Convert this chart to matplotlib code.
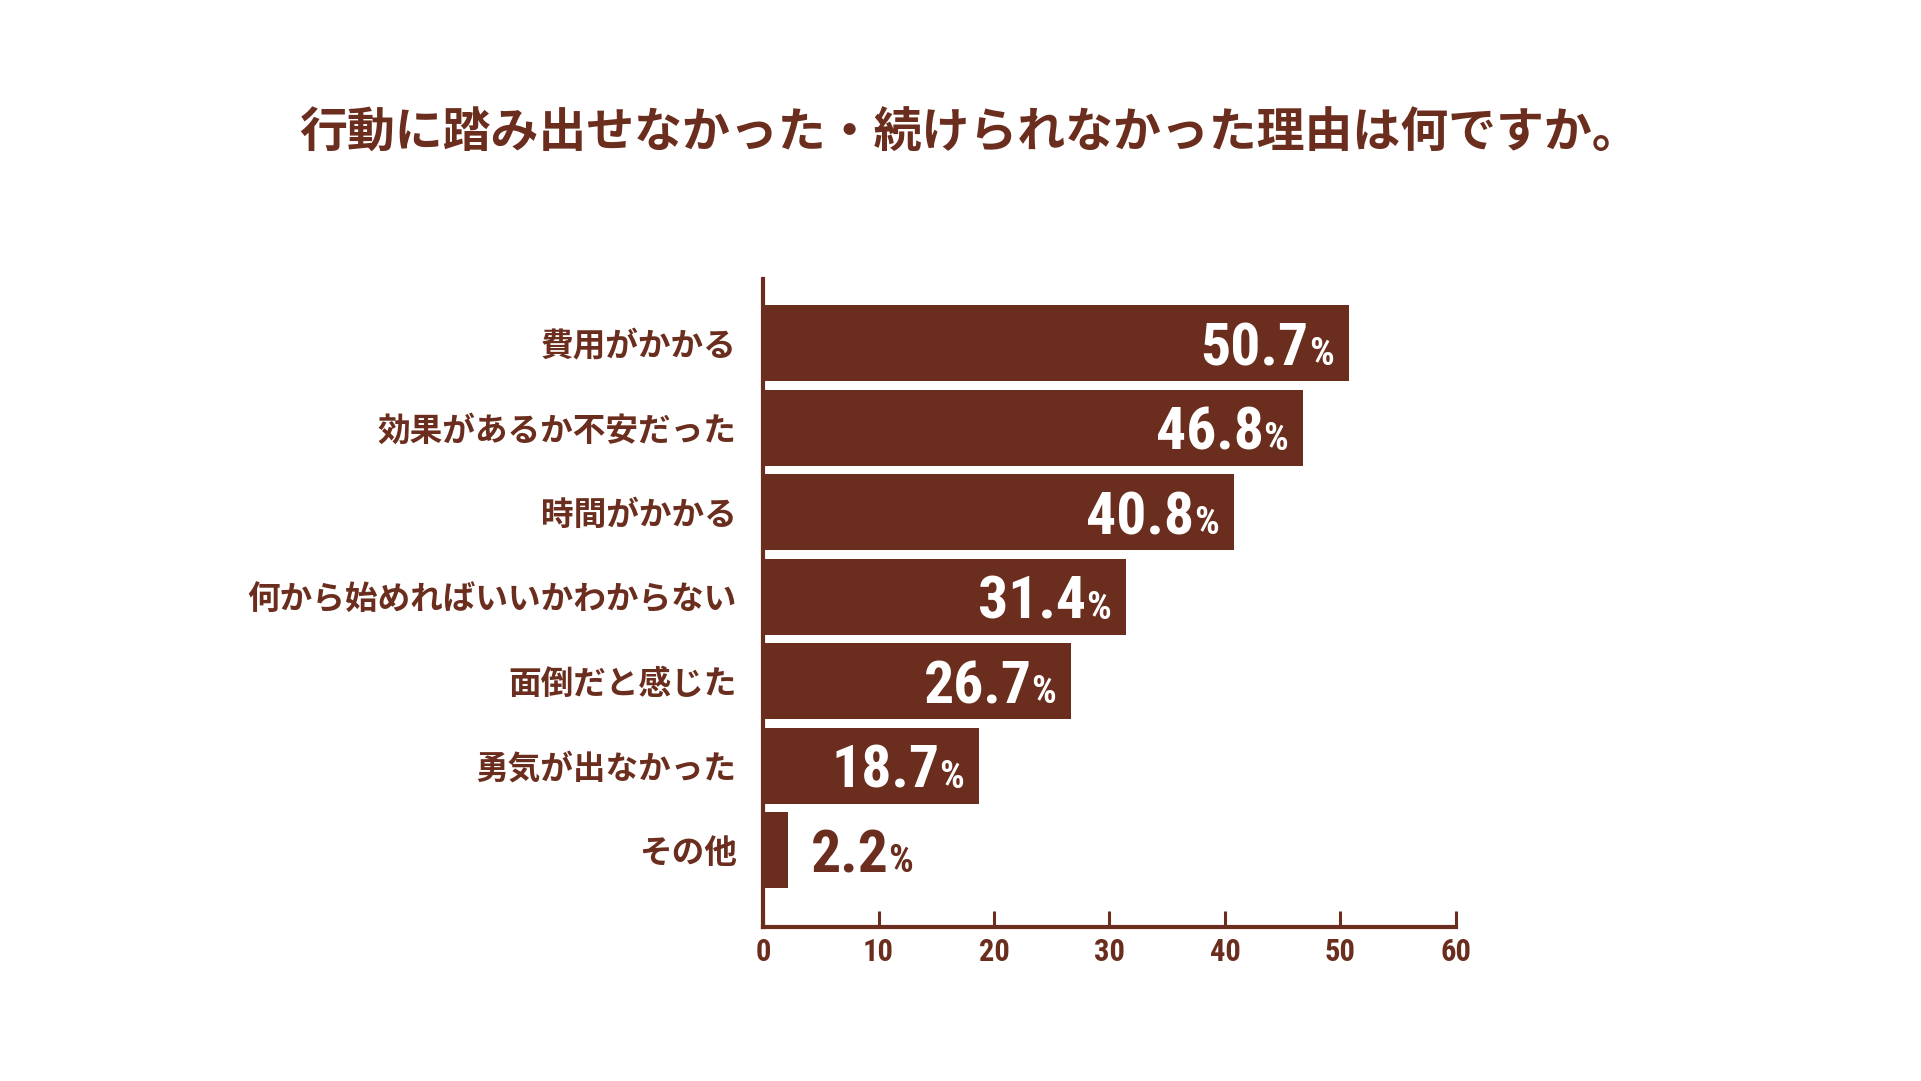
import matplotlib
matplotlib.use("Agg")
import matplotlib.pyplot as plt
from matplotlib import font_manager

# data
title = "行動に踏み出せなかった・続けられなかった理由は何ですか。"
categories = [
    "費用がかかる",
    "効果があるか不安だった",
    "時間がかかる",
    "何から始めればいいかわからない",
    "面倒だと感じた",
    "勇気が出なかった",
    "その他",
]
values = [50.7, 46.8, 40.8, 31.4, 26.7, 18.7, 2.2]
x_ticks = [0, 10, 20, 30, 40, 50, 60]

BROWN = "#6B2E1E"
DPI = 100
JP = ["Noto Sans CJK JP", "DejaVu Sans"]

# pick a narrow font for the numbers if one is installed
names = {f.name for f in font_manager.fontManager.ttflist}
num_font = "DejaVu Sans"
num_stretch = "condensed"
for cand in ["Liberation Sans Narrow", "Roboto Condensed", "DejaVu Sans Condensed"]:
    if cand in names:
        num_font = cand
        num_stretch = "normal"
        break

fig = plt.figure(figsize=(19.21, 10.81), dpi=DPI, facecolor="white")
ax = fig.add_axes([0.3972, 0.1425, 0.3607, 0.5994])

ypos = list(range(len(categories)))
ax.barh(ypos, values, height=0.9, color=BROWN, zorder=2)

ax.set_xlim(0, 60)
ax.set_ylim(6.91, -0.76)

for side in ["top", "right"]:
    ax.spines[side].set_visible(False)
for side in ["left", "bottom"]:
    ax.spines[side].set_color(BROWN)
    ax.spines[side].set_linewidth(3)
    ax.spines[side].set_capstyle("projecting")

ax.set_xticks(x_ticks)
ax.set_xticklabels([str(t) for t in x_ticks], family=num_font, stretch=num_stretch,
                   fontweight="bold", fontsize=22, color=BROWN)
ax.tick_params(axis="x", direction="in", length=11.5, width=2.2, color=BROWN, pad=7)

ax.set_yticks(ypos)
ax.set_yticklabels(categories, family=JP, fontweight="bold", fontsize=23.5, color=BROWN)
ax.tick_params(axis="y", length=0, pad=19)

fig.text(0.5045, 0.877, title, family=JP, fontweight="bold", fontsize=34.5,
         color=BROWN, ha="center", va="center")

# value labels: big number + small percent sign
px2pt = 72.0 / DPI
base_off = -22 * px2pt
fig.canvas.draw()
renderer = fig.canvas.get_renderer()
for y, v in zip(ypos, values):
    inside = v >= 10
    col = "white" if inside else BROWN
    if inside:
        pct = ax.annotate("%", (v, y), xytext=(-15 * px2pt, base_off), textcoords="offset points",
                          ha="right", va="baseline", family=num_font, stretch=num_stretch,
                          fontweight="bold", fontsize=28, color=col)
        w = pct.get_window_extent(renderer).width
        ax.annotate(f"{v:.1f}", (v, y), xytext=(-(15 + w) * px2pt, base_off),
                    textcoords="offset points", ha="right", va="baseline", family=num_font,
                    stretch=num_stretch, fontweight="bold", fontsize=43, color=col)
    else:
        num = ax.annotate(f"{v:.1f}", (v, y), xytext=(22 * px2pt, base_off), textcoords="offset points",
                          ha="left", va="baseline", family=num_font, stretch=num_stretch,
                          fontweight="bold", fontsize=43, color=col)
        w = num.get_window_extent(renderer).width
        ax.annotate("%", (v, y), xytext=((22 + w) * px2pt, base_off), textcoords="offset points",
                    ha="left", va="baseline", family=num_font, stretch=num_stretch,
                    fontweight="bold", fontsize=28, color=col)

fig.savefig("out.png", dpi=DPI, facecolor="white")
